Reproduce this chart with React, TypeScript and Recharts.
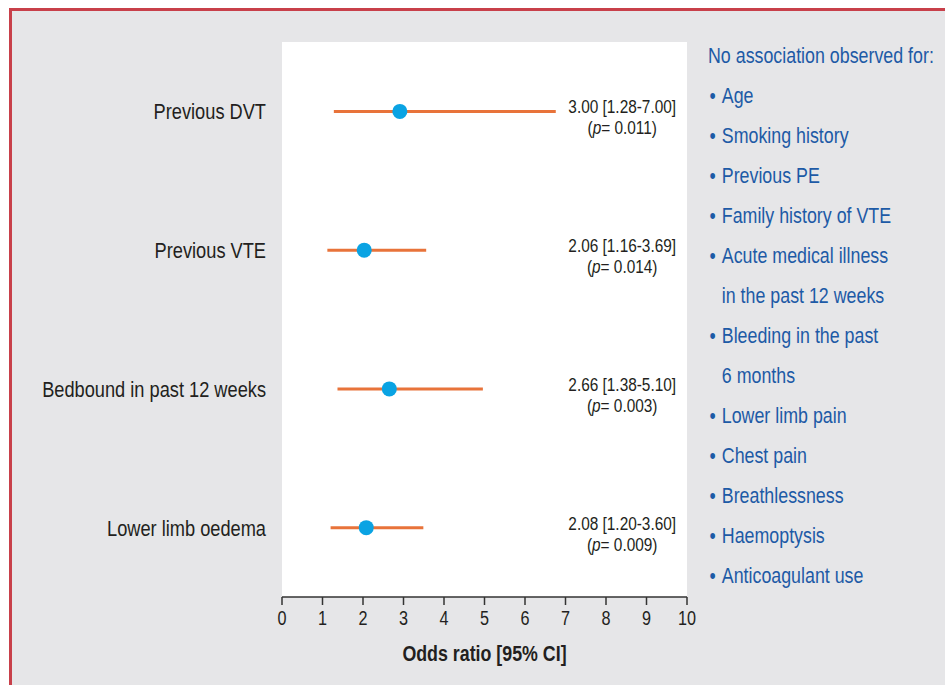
import { ScatterChart, Scatter, XAxis, YAxis, ErrorBar, CartesianGrid, Label } from 'recharts'

// Risk factors and their plotted odds ratios
const factors = ['Previous DVT', 'Previous VTE', 'Bedbound in past 12 weeks', 'Lower limb oedema']
const oddsRatio = [2.91, 2.03, 2.65, 2.08]
const ciLow = [1.28, 1.12, 1.37, 1.2]
const ciHigh = [6.76, 3.56, 4.96, 3.49]
const resultText = ['3.00 [1.28-7.00]', '2.06 [1.16-3.69]', '2.66 [1.38-5.10]', '2.08 [1.20-3.60]']
const pValues = ['0.011', '0.014', '0.003', '0.009']
const annotationX = 8.4

const xTicks = [0, 1, 2, 3, 4, 5, 6, 7, 8, 9, 10]

const noAssociationTitle = 'No association observed for:'
const noAssociation = [
  ['Age'],
  ['Smoking history'],
  ['Previous PE'],
  ['Family history of VTE'],
  ['Acute medical illness', 'in the past 12 weeks'],
  ['Bleeding in the past', '6 months'],
  ['Lower limb pain'],
  ['Chest pain'],
  ['Breathlessness'],
  ['Haemoptysis'],
  ['Anticoagulant use'],
]

// no condensed face installed, so squeeze the regular one
const FONT = "'Liberation Sans', Arial, sans-serif"
const SQUEEZE = 0.81
const ORANGE = '#e8733a'
const BLUE = '#0aa3e3'
const TEXT = '#231f20'
const LIST_BLUE = '#1d5aa6'

const points = factors.map((name, i) => ({
  name,
  x: oddsRatio[i],
  y: i + 1,
  err: [oddsRatio[i] - ciLow[i], ciHigh[i] - oddsRatio[i]],
}))

const annotations = factors.map((_, i) => ({
  x: annotationX,
  y: i + 1,
  text: resultText[i],
  p: pValues[i],
}))

function Dot(props: any) {
  const { cx, cy } = props
  return <circle cx={cx} cy={cy} r={7.5} fill={BLUE} />
}

function Annotation(props: any) {
  const { cx, cy, payload } = props
  return (
    <g transform={`translate(${cx},${cy}) scale(${SQUEEZE},1)`}>
      <text textAnchor="middle" fontFamily={FONT} fontSize={19} fill={TEXT}>
        <tspan x={0} y={2}>{payload.text}</tspan>
        <tspan x={0} y={23}>
          (<tspan fontStyle="italic">p</tspan>= {payload.p})
        </tspan>
      </text>
    </g>
  )
}

function FactorTick(props: any) {
  const { x, y, payload } = props
  return (
    <g transform={`translate(${x},${y}) scale(${SQUEEZE},1)`}>
      <text textAnchor="end" dy="0.355em" fontFamily={FONT} fontSize={22.5} fill={TEXT}>
        {factors[payload.value - 1]}
      </text>
    </g>
  )
}

function OddsTick(props: any) {
  const { x, y, payload } = props
  return (
    <g transform={`translate(${x},${y}) scale(${SQUEEZE},1)`}>
      <text textAnchor="middle" dy="0.71em" fontFamily={FONT} fontSize={20} fill={TEXT}>
        {payload.value}
      </text>
    </g>
  )
}

function AxisTitle(props: any) {
  const { viewBox } = props
  const cx = viewBox.x + viewBox.width / 2
  const y = viewBox.y + viewBox.height - 8
  return (
    <g transform={`translate(${cx},${y}) scale(${SQUEEZE},1)`}>
      <text textAnchor="middle" fontFamily={FONT} fontSize={22} fontWeight="bold" fill={TEXT}>
        Odds ratio [95% CI]
      </text>
    </g>
  )
}

export default function App() {
  let row = 0
  return (
    <div style={{ position: 'absolute', left: 0, top: 0, width: 945, height: 685, background: '#fff', overflow: 'hidden' }}>
      <div
        style={{
          position: 'absolute',
          left: 9,
          top: 8,
          width: 950,
          height: 690,
          background: '#e6e6e8',
          borderLeft: '3px solid #c8404a',
          borderTop: '3px solid #c8404a',
        }}
      />
      <div style={{ position: 'absolute', left: 0, top: 0 }}>
        <ScatterChart width={945} height={685} margin={{ top: 42, right: 258, bottom: 16, left: 10 }}>
          <CartesianGrid horizontal={false} vertical={false} fill="#ffffff" />
          <XAxis
            type="number"
            dataKey="x"
            domain={[0, 10]}
            ticks={xTicks}
            height={72}
            tickSize={8}
            tickMargin={6}
            stroke="#333"
            strokeWidth={1.5}
            tick={<OddsTick />}
          >
            <Label content={<AxisTitle />} />
          </XAxis>
          <YAxis
            type="number"
            dataKey="y"
            domain={[0.5, 4.5]}
            ticks={[1, 2, 3, 4]}
            reversed
            width={272}
            axisLine={false}
            tickLine={false}
            tickSize={0}
            tickMargin={16}
            tick={<FactorTick />}
          />
          <Scatter data={points} shape={Dot} isAnimationActive={false}>
            <ErrorBar dataKey="err" direction="x" width={0} stroke={ORANGE} strokeWidth={3} />
          </Scatter>
          <Scatter data={annotations} shape={Annotation} isAnimationActive={false} />
        </ScatterChart>
      </div>

      {/* list of factors without association */}
      <div
        style={{
          position: 'absolute',
          left: 708,
          top: 36,
          fontFamily: FONT,
          fontSize: 22,
          lineHeight: '40px',
          color: LIST_BLUE,
          whiteSpace: 'nowrap',
          transform: `scaleX(${SQUEEZE})`,
          transformOrigin: 'left top',
        }}
      >
        <div>{noAssociationTitle}</div>
        {noAssociation.map((lines) =>
          lines.map((line, j) => {
            row++
            return (
              <div key={row} style={{ position: 'relative', paddingLeft: 17 }}>
                {j === 0 && (
                  <span style={{ position: 'absolute', left: 2, top: 0 }}>•</span>
                )}
                {line}
              </div>
            )
          })
        )}
      </div>
    </div>
  )
}
